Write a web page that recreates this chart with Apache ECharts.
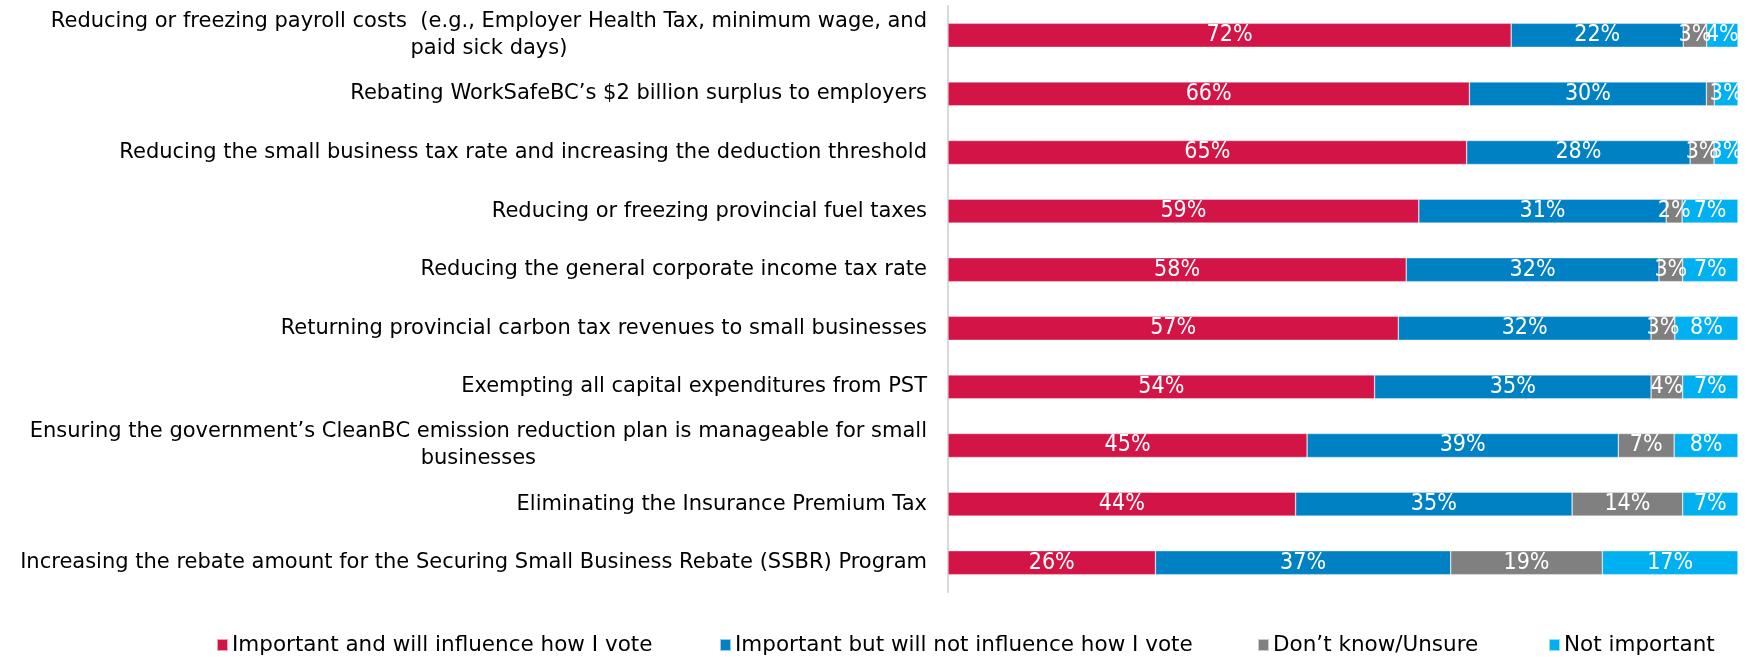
<!DOCTYPE html>
<html>
<head>
<meta charset="utf-8">
<script src="https://cdn.jsdelivr.net/npm/echarts@6/dist/echarts.min.js"></script>
<style>
  html, body { margin: 0; padding: 0; background: #ffffff; }
  #chart { width: 1747px; height: 658px; }
</style>
</head>
<body>
<div id="chart"></div>
<script>
// Policy priorities, listed top to bottom
const categories = [
  'Reducing or freezing payroll costs  (e.g., Employer Health Tax, minimum wage, and\npaid sick days)',
  'Rebating WorkSafeBC\u2019s $2 billion surplus to employers',
  'Reducing the small business tax rate and increasing the deduction threshold',
  'Reducing or freezing provincial fuel taxes',
  'Reducing the general corporate income tax rate',
  'Returning provincial carbon tax revenues to small businesses',
  'Exempting all capital expenditures from PST',
  'Ensuring the government\u2019s CleanBC emission reduction plan is manageable for small\nbusinesses',
  'Eliminating the Insurance Premium Tax',
  'Increasing the rebate amount for the Securing Small Business Rebate (SSBR) Program'
];

// Share of respondents (%) per answer
const importantInfluence = [72, 66, 65, 59, 58, 57, 54, 45, 44, 26];
const importantNoInfluence = [22, 30, 28, 31, 32, 32, 35, 39, 35, 37];
const dontKnow = [3, 1, 3, 2, 3, 3, 4, 7, 14, 19];
const notImportant = [4, 3, 3, 7, 7, 8, 7, 8, 7, 17];

const seriesNames = [
  'Important and will influence how I vote',
  'Important but will not influence how I vote',
  'Don\u2019t know/Unsure',
  'Not important'
];
const seriesColors = ['#D31446', '#0081C4', '#808080', '#00B0F0'];
const seriesValues = [importantInfluence, importantNoInfluence, dontKnow, notImportant];

// 100% stacked: each row is scaled to its own total
const rowTotals = categories.map((_, i) =>
  seriesValues.reduce((s, arr) => s + arr[i], 0));

const labelFont = "'DejaVu Sans', sans-serif";
const valueFont = "'Liberation Sans Narrow', 'DejaVu Sans Condensed', sans-serif";

const series = seriesValues.map((arr, k) => ({
  name: seriesNames[k],
  type: 'bar',
  stack: 'total',
  barWidth: 24,
  itemStyle: { color: seriesColors[k], borderColor: 'rgba(255,255,255,0.6)', borderWidth: 0.6 },
  label: {
    show: true,
    position: 'inside',
    color: '#ffffff',
    fontFamily: valueFont,
    fontSize: 23,
    formatter: p => arr[p.dataIndex] + '%'
  },
  emphasis: { disabled: true },
  data: arr.map((v, i) => {
    const item = { value: v / rowTotals[i] * 100 };
    if (v < 2) item.label = { show: false };
    return item;
  })
}));

const legendLeft = [216, 719, 1257, 1548];
const legends = seriesNames.map((n, k) => ({
  data: [n],
  left: legendLeft[k],
  top: 634,
  padding: 0,
  itemWidth: 11,
  itemHeight: 12,
  itemGap: 0,
  icon: 'rect',
  selectedMode: false,
  textStyle: { fontFamily: labelFont, fontSize: 21.5, color: '#000000', padding: [0, 0, 0, -1] }
}));

const chart = echarts.init(document.getElementById('chart'), null, { renderer: 'canvas' });
chart.setOption({
  animation: false,
  backgroundColor: '#ffffff',
  color: seriesColors,
  legend: legends,
  grid: { left: 948, right: 9, top: 6, bottom: 66, containLabel: false },
  xAxis: {
    type: 'value',
    min: 0,
    max: 100,
    show: false
  },
  yAxis: {
    type: 'category',
    inverse: true,
    data: categories,
    axisTick: { show: false },
    axisLine: { show: true, lineStyle: { color: '#D9D9D9', width: 2 } },
    axisLabel: {
      margin: 21,
      color: '#000000',
      fontFamily: labelFont,
      fontSize: 21,
      lineHeight: 27,
      formatter: v => v.split('\n').map(l => '{c|' + l + '}').join('\n'),
      rich: { c: { align: 'center', fontFamily: labelFont, fontSize: 21, lineHeight: 27, color: '#000000' } }
    }
  },
  series: series
});
</script>
</body>
</html>
